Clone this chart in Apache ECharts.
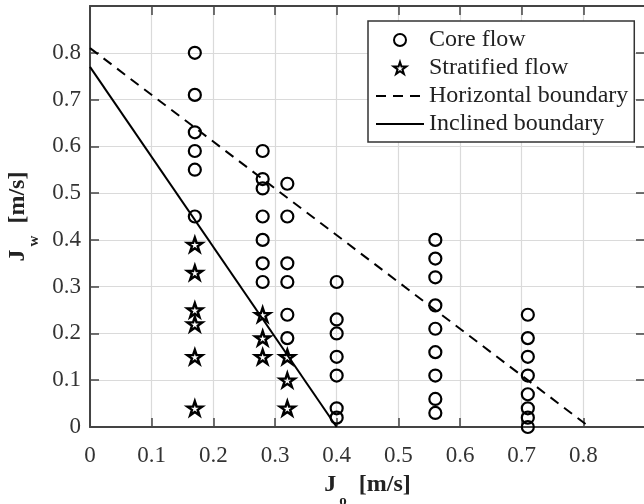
<!DOCTYPE html>
<html>
<head>
<meta charset="utf-8">
<title>Oil-water flow pattern map</title>
<script src="https://cdn.jsdelivr.net/npm/echarts@6/dist/echarts.min.js"></script>
<style>
  html, body { margin: 0; padding: 0; background: #fff; }
  #chart { width: 644px; height: 504px; }
</style>
</head>
<body>
<div id="chart"></div>
<script>
// Superficial velocities [Jo, Jw] in m/s
const coreFlow = [
  [0.17, 0.80], [0.17, 0.71], [0.17, 0.63], [0.17, 0.59], [0.17, 0.55], [0.17, 0.45],
  [0.28, 0.59], [0.28, 0.53], [0.28, 0.51], [0.28, 0.45], [0.28, 0.40], [0.28, 0.35], [0.28, 0.31],
  [0.32, 0.52], [0.32, 0.45], [0.32, 0.35], [0.32, 0.31], [0.32, 0.24], [0.32, 0.19],
  [0.40, 0.31], [0.40, 0.23], [0.40, 0.20], [0.40, 0.15], [0.40, 0.11], [0.40, 0.04], [0.40, 0.02],
  [0.56, 0.40], [0.56, 0.36], [0.56, 0.32], [0.56, 0.26], [0.56, 0.21], [0.56, 0.16], [0.56, 0.11], [0.56, 0.06], [0.56, 0.03],
  [0.71, 0.24], [0.71, 0.19], [0.71, 0.15], [0.71, 0.11], [0.71, 0.07], [0.71, 0.04], [0.71, 0.02], [0.71, 0.00]
];
const stratifiedFlow = [
  [0.17, 0.39], [0.17, 0.33], [0.17, 0.25], [0.17, 0.22], [0.17, 0.15], [0.17, 0.04],
  [0.28, 0.24], [0.28, 0.19], [0.28, 0.15],
  [0.32, 0.15], [0.32, 0.10], [0.32, 0.04]
];
const horizontalBoundary = [[0, 0.81], [0.81, 0]];
const inclinedBoundary = [[0, 0.77], [0.40, 0]];

const seriesNames = ['Core flow', 'Stratified flow', 'Horizontal boundary', 'Inclined boundary'];

const FONT = "'Liberation Serif', 'Times New Roman', serif";
const AXIS_COLOR = '#444';
const STAR = 'path://M50,0L61.23,34.55L97.55,34.55L68.16,55.9L79.39,90.45L50,69.1L20.61,90.45L31.84,55.9L2.45,34.55L38.77,34.55Z';

// bold title with a lowered subscript
const titleRich = {
  b: { fontFamily: FONT, fontWeight: 'bold', fontSize: 24, color: '#222', lineHeight: 26, verticalAlign: 'top' },
  s: { fontFamily: FONT, fontWeight: 'bold', fontSize: 15, color: '#222', lineHeight: 15, padding: [21, 6, 0, 3], verticalAlign: 'top' }
};

function hideEdge(v) {
  return v > 0.85 ? '' : String(v);
}

function valueAxis(extra) {
  return Object.assign({
    type: 'value',
    min: 0,
    max: 0.9,
    interval: 0.1,
    axisLine: { show: true, onZero: false, lineStyle: { color: AXIS_COLOR, width: 2 } },
    axisTick: { show: true, inside: true, length: 9, lineStyle: { color: AXIS_COLOR, width: 1.5 } },
    splitLine: { show: false },
    axisLabel: { show: false }
  }, extra);
}

// line entries show only their stroke in the legend
const hiddenMarker = { color: 'rgba(0,0,0,0)', borderWidth: 0, opacity: 0 };

const chart = echarts.init(document.getElementById('chart'), null, { renderer: 'canvas' });
chart.setOption({
  animation: false,
  backgroundColor: '#fff',
  grid: { left: 90, right: -1, top: 6, bottom: 77, containLabel: false, outerBoundsMode: 'none' },
  xAxis: [
    valueAxis({
      position: 'bottom',
      splitLine: { show: true, lineStyle: { color: '#dadada', width: 1.2 } },
      axisLabel: { show: true, margin: 17, fontFamily: FONT, fontSize: 23, color: '#333', formatter: hideEdge },
      name: '{b|J}{s|o}{b| [m/s]}',
      nameLocation: 'middle',
      nameGap: 46,
      nameTextStyle: { rich: titleRich }
    }),
    valueAxis({ position: 'top' })
  ],
  yAxis: [
    valueAxis({
      position: 'left',
      splitLine: { show: true, lineStyle: { color: '#dadada', width: 1.2 } },
      axisLabel: { show: true, margin: 9, fontFamily: FONT, fontSize: 23, color: '#333', formatter: hideEdge },
      name: '{b|J}{s|w}{b| [m/s]}',
      nameLocation: 'middle',
      nameRotate: 90,
      nameGap: 56,
      nameTextStyle: { rich: titleRich }
    }),
    valueAxis({ position: 'right' })
  ],
  legend: {
    orient: 'vertical',
    left: 368,
    top: 21,
    padding: [7, 6, 6, 7],
    itemGap: 4,
    itemWidth: 48,
    itemHeight: 12,
    backgroundColor: '#fff',
    borderColor: '#333',
    borderWidth: 1.5,
    borderRadius: 0,
    selectedMode: false,
    textStyle: { fontFamily: FONT, fontSize: 24, color: '#222', lineHeight: 24 },
    data: [
      { name: seriesNames[0] },
      { name: seriesNames[1] },
      { name: seriesNames[2], itemStyle: hiddenMarker },
      { name: seriesNames[3], itemStyle: hiddenMarker }
    ]
  },
  series: [
    {
      name: seriesNames[0],
      type: 'scatter',
      data: coreFlow,
      symbol: 'circle',
      symbolSize: 12,
      itemStyle: { color: 'rgba(255,255,255,0)', borderColor: '#000', borderWidth: 2.2, opacity: 1 },
      z: 3
    },
    {
      name: seriesNames[1],
      type: 'scatter',
      data: stratifiedFlow,
      symbol: STAR,
      symbolSize: [15, 14],
      itemStyle: { color: 'rgba(255,255,255,0)', borderColor: '#000', borderWidth: 2.4, opacity: 1 },
      z: 3
    },
    {
      name: seriesNames[2],
      type: 'line',
      data: horizontalBoundary,
      symbol: 'none',
      showSymbol: false,
      lineStyle: { color: '#000', width: 2, type: [10, 7] },
      itemStyle: { color: '#000' },
      z: 4
    },
    {
      name: seriesNames[3],
      type: 'line',
      data: inclinedBoundary,
      symbol: 'none',
      showSymbol: false,
      lineStyle: { color: '#000', width: 2, type: 'solid' },
      itemStyle: { color: '#000' },
      z: 4
    }
  ]
});
</script>
</body>
</html>
